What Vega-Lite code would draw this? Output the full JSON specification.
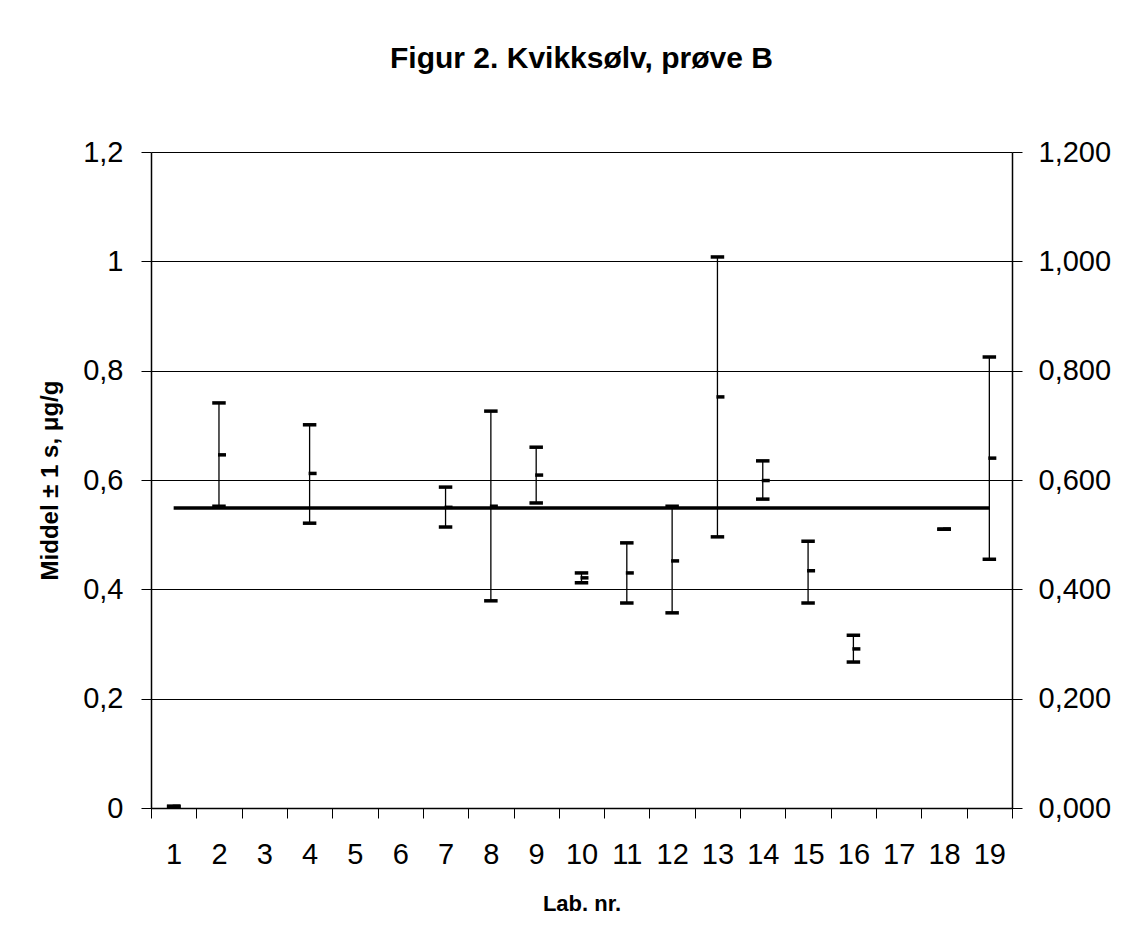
{
  "$schema": "https://vega.github.io/schema/vega-lite/v6.json",
  "width": 861,
  "height": 656,
  "autosize": "none",
  "padding": {"left": 151, "top": 152, "right": 116, "bottom": 133},
  "background": "white",
  "config": {
    "locale": {"number": {"decimal": ",", "thousands": ".", "grouping": [3], "currency": ["", ""]}},
    "view": {"stroke": null},
    "font": "Liberation Sans"
  },
  "title": {
    "text": "Figur 2. Kvikksølv, prøve B",
    "font": "Liberation Sans",
    "fontSize": 30,
    "fontWeight": "bold",
    "color": "black",
    "anchor": "middle",
    "offset": 64
  },
  "data": {
    "values": [
      {"lab": "1", "mean": 0.003, "lower": 0.003, "upper": 0.003, "target": 0.549},
      {"lab": "2", "mean": 0.646, "lower": 0.552, "upper": 0.741, "target": 0.549},
      {"lab": "3", "mean": null, "lower": null, "upper": null, "target": 0.549},
      {"lab": "4", "mean": 0.612, "lower": 0.521, "upper": 0.701, "target": 0.549},
      {"lab": "5", "mean": null, "lower": null, "upper": null, "target": 0.549},
      {"lab": "6", "mean": null, "lower": null, "upper": null, "target": 0.549},
      {"lab": "7", "mean": 0.550, "lower": 0.514, "upper": 0.587, "target": 0.549},
      {"lab": "8", "mean": 0.552, "lower": 0.379, "upper": 0.726, "target": 0.549},
      {"lab": "9", "mean": 0.609, "lower": 0.558, "upper": 0.660, "target": 0.549},
      {"lab": "10", "mean": 0.421, "lower": 0.412, "upper": 0.430, "target": 0.549},
      {"lab": "11", "mean": 0.430, "lower": 0.375, "upper": 0.485, "target": 0.549},
      {"lab": "12", "mean": 0.452, "lower": 0.357, "upper": 0.552, "target": 0.549},
      {"lab": "13", "mean": 0.752, "lower": 0.496, "upper": 1.008, "target": 0.549},
      {"lab": "14", "mean": 0.599, "lower": 0.565, "upper": 0.635, "target": 0.549},
      {"lab": "15", "mean": 0.434, "lower": 0.375, "upper": 0.488, "target": 0.549},
      {"lab": "16", "mean": 0.291, "lower": 0.267, "upper": 0.316, "target": 0.549},
      {"lab": "17", "mean": null, "lower": null, "upper": null, "target": 0.549},
      {"lab": "18", "mean": 0.510, "lower": 0.510, "upper": 0.510, "target": 0.549},
      {"lab": "19", "mean": 0.640, "lower": 0.455, "upper": 0.825, "target": 0.549}
    ]
  },
  "encoding": {
    "x": {
      "field": "lab",
      "type": "ordinal",
      "sort": ["1", "2", "3", "4", "5", "6", "7", "8", "9", "10", "11", "12", "13", "14", "15", "16", "17", "18", "19"],
      "scale": {
        "domain": ["1", "2", "3", "4", "5", "6", "7", "8", "9", "10", "11", "12", "13", "14", "15", "16", "17", "18", "19"],
        "paddingInner": 0,
        "paddingOuter": 0
      },
      "axis": {
        "title": "Lab. nr.",
        "titleFont": "Liberation Sans",
        "titleFontSize": 22,
        "titleFontWeight": "bold",
        "titleColor": "black",
        "titlePadding": 24,
        "labelAngle": 0,
        "labelFont": "Liberation Sans",
        "labelFontSize": 29,
        "labelColor": "black",
        "labelPadding": 22,
        "tickBand": "extent",
        "tickSize": 10,
        "tickColor": "black",
        "domainColor": "black",
        "domainWidth": 1.5,
        "grid": false
      }
    }
  },
  "layer": [
    {
      "layer": [
        {
          "mark": {"type": "rule", "color": "black", "strokeWidth": 1.3},
          "encoding": {
            "y": {
              "field": "lower",
              "type": "quantitative",
              "scale": {"domain": [0, 1.2], "nice": false, "zero": true},
              "axis": {
                "orient": "left",
                "title": "Middel ± 1 s, μg/g",
                "titleFont": "Liberation Sans",
                "titleFontSize": 24,
                "titleFontWeight": "bold",
                "titleColor": "black",
                "titlePadding": 20,
                "values": [0, 0.2, 0.4, 0.6, 0.8, 1, 1.2],
                "format": "~g",
                "labelFont": "Liberation Sans",
                "labelFontSize": 29,
                "labelColor": "black",
                "labelPadding": 18,
                "tickSize": 10,
                "tickColor": "black",
                "domainColor": "black",
                "domainWidth": 1.5,
                "grid": true,
                "gridColor": "black",
                "gridWidth": 1,
                "gridOpacity": 1
              }
            },
            "y2": {"field": "upper"}
          }
        },
        {
          "mark": {"type": "tick", "color": "black", "size": 13.5, "thickness": 3.5, "opacity": 1},
          "encoding": {"y": {"field": "upper", "type": "quantitative"}}
        },
        {
          "mark": {"type": "tick", "color": "black", "size": 13.5, "thickness": 3.5, "opacity": 1},
          "encoding": {"y": {"field": "lower", "type": "quantitative"}}
        },
        {
          "mark": {"type": "tick", "color": "black", "size": 8, "thickness": 3.5, "xOffset": 3, "opacity": 1},
          "encoding": {"y": {"field": "mean", "type": "quantitative"}}
        }
      ]
    },
    {
      "mark": {"type": "line", "color": "black", "strokeWidth": 3.5},
      "encoding": {
        "y": {
          "field": "target",
          "type": "quantitative",
          "scale": {"domain": [0, 1.2], "nice": false, "zero": true},
          "axis": {
            "orient": "right",
            "title": null,
            "values": [0, 0.2, 0.4, 0.6, 0.8, 1, 1.2],
            "format": ".3f",
            "labelFont": "Liberation Sans",
            "labelFontSize": 29,
            "labelColor": "black",
            "labelPadding": 16,
            "tickSize": 10,
            "tickColor": "black",
            "domainColor": "black",
            "domainWidth": 1.5,
            "grid": false
          }
        }
      }
    }
  ],
  "resolve": {"axis": {"y": "independent"}}
}
